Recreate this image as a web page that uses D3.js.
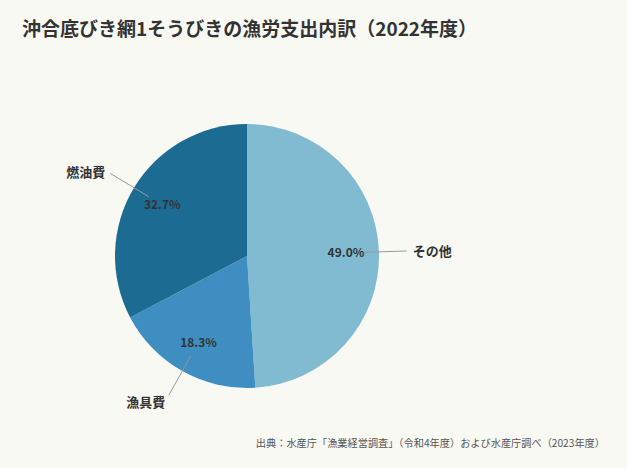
<!DOCTYPE html>
<html>
<head>
<meta charset="utf-8">
<script src="https://cdn.jsdelivr.net/npm/d3@7"></script>
<style>
  html, body { margin: 0; padding: 0; background: #f9f9f4; }
  svg { display: block; font-family: "Noto Sans CJK JP", "Noto Sans", sans-serif; }
</style>
</head>
<body>
<div id="chart"></div>
<script>
// data
var categories = ['その他', '漁具費', '燃油費'];
var shares = [49.0, 18.3, 32.7];
var colors = ['#80bbd2', '#3f8ec1', '#1c6b93'];

var width = 627,
  height = 468,
  cx = 247,
  cy = 256,
  radius = 132;

var svg = d3.select('#chart').append('svg')
  .attr('width', width)
  .attr('height', height);

svg.append('rect')
  .attr('width', width)
  .attr('height', height)
  .attr('fill', '#f9f9f4');

svg.append('text')
  .attr('x', 22)
  .attr('y', 36)
  .attr('font-size', 19)
  .attr('font-weight', 'bold')
  .attr('fill', '#333')
  .text('沖合底びき網1そうびきの漁労支出内訳（2022年度）');

svg.append('text')
  .attr('x', 605)
  .attr('y', 447)
  .attr('text-anchor', 'end')
  .attr('font-size', 10.2)
  .attr('fill', '#555')
  .text('出典：水産庁「漁業経営調査」（令和4年度）および水産庁調べ（2023年度）');

var pie = d3.pie().sort(null).value(function(d) { return d; });
var arcs = pie(shares);

var arc = d3.arc().innerRadius(0).outerRadius(radius);

var g = svg.append('g').attr('transform', 'translate(' + cx + ',' + cy + ')');

g.selectAll('path.slice')
  .data(arcs)
  .enter().append('path')
  .attr('class', 'slice')
  .attr('d', arc)
  .attr('fill', function(d, i) { return colors[i]; });

function pointAt(angle, r) {
  return [Math.sin(angle) * r, -Math.cos(angle) * r];
}

function midAngle(d) {
  return (d.startAngle + d.endAngle) / 2;
}

// leader lines
g.selectAll('line.leader')
  .data(arcs)
  .enter().append('line')
  .attr('class', 'leader')
  .attr('x1', function(d) { return pointAt(midAngle(d), radius * 0.87)[0]; })
  .attr('y1', function(d) { return pointAt(midAngle(d), radius * 0.87)[1]; })
  .attr('x2', function(d) { return pointAt(midAngle(d), radius * 1.21)[0]; })
  .attr('y2', function(d) { return pointAt(midAngle(d), radius * 1.21)[1]; })
  .attr('stroke', '#999')
  .attr('stroke-width', 1);

// percentage labels inside
g.selectAll('text.pct')
  .data(arcs)
  .enter().append('text')
  .attr('class', 'pct')
  .attr('x', function(d) { return pointAt(midAngle(d), radius * 0.75)[0]; })
  .attr('y', function(d) { return pointAt(midAngle(d), radius * 0.75)[1]; })
  .attr('dy', '0.35em')
  .attr('text-anchor', 'middle')
  .attr('font-size', 12)
  .attr('font-weight', 'bold')
  .attr('fill', '#333')
  .text(function(d, i) { return shares[i].toFixed(1) + '%'; });

// category labels outside
g.selectAll('text.cat')
  .data(arcs)
  .enter().append('text')
  .attr('class', 'cat')
  .attr('x', function(d) {
    var p = pointAt(midAngle(d), radius * 1.21);
    var a = midAngle(d);
    if (a < Math.PI * 0.75) return p[0] + 6;
    if (a < Math.PI * 1.4) return p[0] - 23;
    return p[0] - 5;
  })
  .attr('y', function(d) {
    var p = pointAt(midAngle(d), radius * 1.21);
    var a = midAngle(d);
    if (a < Math.PI * 0.75) return p[1];
    if (a < Math.PI * 1.4) return p[1] + 7;
    return p[1] - 1;
  })
  .attr('dy', '0.35em')
  .attr('text-anchor', function(d) {
    var a = midAngle(d);
    if (a < Math.PI * 0.75) return 'start';
    if (a < Math.PI * 1.4) return 'middle';
    return 'end';
  })
  .attr('font-size', 13)
  .attr('font-weight', 'bold')
  .attr('fill', '#333')
  .text(function(d, i) { return categories[i]; });
</script>
</body>
</html>
